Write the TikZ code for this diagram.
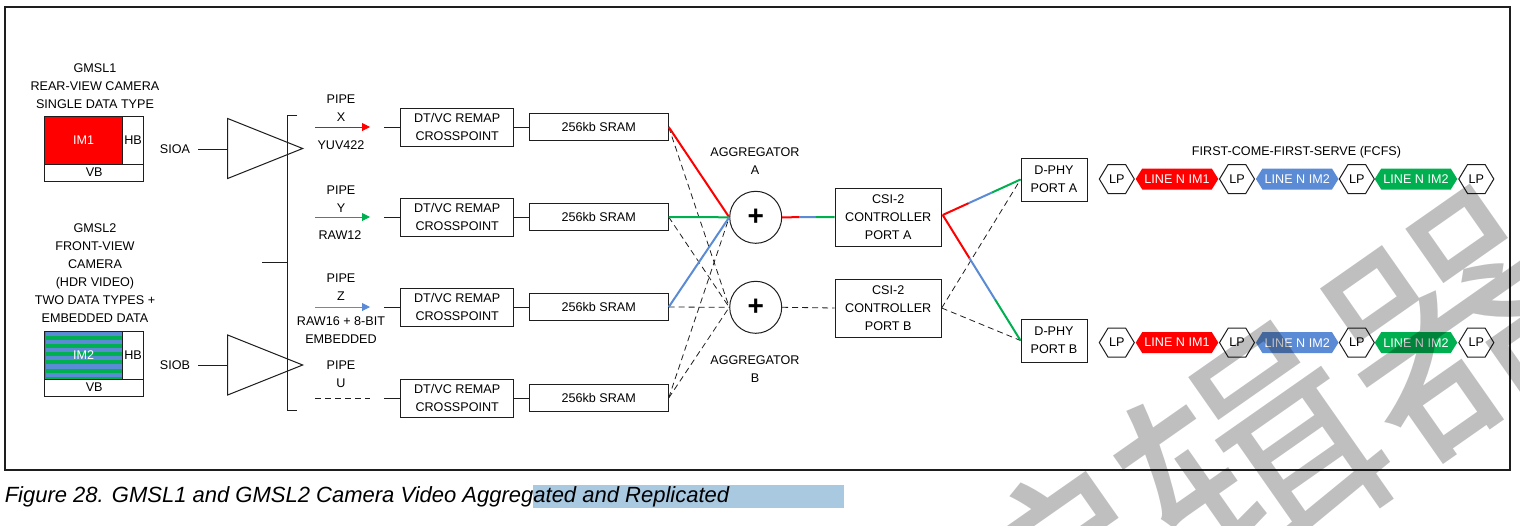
\documentclass[tikz,border=0pt]{standalone}
\usepackage{fontspec}
\setmainfont{Liberation Sans}
\newfontfamily\cjk{Noto Sans CJK SC}
\usepackage{tikz}
\usetikzlibrary{
  shapes.geometric, shapes.symbols, arrows.meta, calc
}
\definecolor{imred}{HTML}{FF0000}
\definecolor{imgreen}{HTML}{00B050}
\definecolor{imblue}{HTML}{5B8BD4}
\definecolor{inkgrey}{HTML}{1E1E1E}
\definecolor{hilite}{HTML}{A9C9E1}

\begin{document}
\begin{tikzpicture}[x=1pt,y=-1pt,
    every node/.style={font=\fontsize{12.6}{18}\selectfont, align=center, inner sep=0pt, text=black},
    label/.style={},
    block/.style={draw=inkgrey, line width=1pt, fill=white, minimum width=#1},
    remapbox/.style={block=113pt, minimum height=38pt},
    srambox/.style={block=139pt, minimum height=27pt},
    csibox/.style={block=106pt, minimum height=58pt},
    phybox/.style={block=66pt, minimum height=43pt},
    sumnode/.style={circle, draw=inkgrey, line width=1pt, minimum size=52pt, fill=white, font=\bfseries\fontsize{28}{28}\selectfont},
    amp/.style={isosceles triangle, isosceles triangle stretches, draw=inkgrey, line width=1pt, minimum width=60pt, minimum height=75pt},
    wire/.style={draw=inkgrey, line width=1pt},
    dashwire/.style={draw=inkgrey, line width=0.8pt, dash pattern=on 6pt off 4pt},
    colwire/.style={draw=#1, line width=2pt},
    pipearrow/.style={draw=#1, line width=1pt, -{Triangle[length=8pt,width=8pt,fill=#1]}},
    lpnode/.style={signal, signal to=west and east, signal pointer angle=118, draw=inkgrey, line width=1pt, fill=white, minimum width=35pt, minimum height=29pt},
    linenode/.style={signal, signal to=west and east, signal pointer angle=116, fill=#1, text=white, minimum width=82.6pt, minimum height=21pt},
    stamp/.style={text=black, text opacity=0.25, rotate=35, font=\cjk\fontsize{245}{245}\selectfont}
  ]
    \useasboundingbox (0,0) rectangle (1520,525);
    \node[draw=inkgrey, line width=2pt, minimum width=1505pt, minimum height=463pt] (frame) at (757,238.5) {};

    \node (camAtext) at (95,86) {GMSL1\\REAR-VIEW CAMERA\\SINGLE DATA TYPE};
    \node[block=77.5pt, minimum height=48pt, fill=imred, text=white] (imA) at (83.7,140) {IM1};
    \node[block=21pt, minimum height=48pt] (hbA) at (133,140) {HB};
    \node[block=98.5pt, minimum height=17pt] (vbA) at (94.2,172.5) {VB};

    \node (camBtext) at (95,273.5) {GMSL2\\FRONT-VIEW\\CAMERA\\(HDR VIDEO)\\TWO DATA TYPES +\\EMBEDDED DATA};
    \node[block=77.5pt, minimum height=48pt, fill=imgreen] (imB) at (83.7,355) {};
    \foreach \k in {0,...,5}{
      \fill[imblue] (45.5,331.5+8.2*\k) rectangle (122,335.7+8.2*\k);
    }
    \node[text=white] (imBtext) at (83.7,355) {IM2};
    \node[block=21pt, minimum height=48pt] (hbB) at (133,355) {HB};
    \node[block=98.5pt, minimum height=17pt] (vbB) at (94.2,387.5) {VB};

    \node[minimum width=46pt] (sioA) at (175,149) {SIOA};
    \node[minimum width=46pt] (sioB) at (175,365) {SIOB};
    \node[amp] (ampA) at (248,148.5) {};
    \node[amp] (ampB) at (248,365) {};
    \draw[wire] (sioA.east) -- (ampA.west |- sioA.east);
    \draw[wire] (sioB.east) -- (ampB.west |- sioB.east);

    \coordinate (brktop) at (297,115.5);
    \coordinate (brkbot) at (297,410);
    \coordinate (brkmid) at (262,262);
    \draw[wire] (brktop) -- (287.5,115.5) -- (287.5,410) -- (brkbot);
    \draw[wire] (brkmid) -- (287.5,262);

    \node (pipeXtext) at (341,108) {PIPE\\X};
    \node (pipeYtext) at (341,199) {PIPE\\Y};
    \node (pipeZtext) at (341,287) {PIPE\\Z};
    \node (pipeUtext) at (341,374) {PIPE\\U};
    \node (fmtX) at (341,145) {YUV422};
    \node (fmtY) at (340,235) {RAW12};
    \node (fmtZ) at (341,330) {RAW16 + 8-BIT\\EMBEDDED};

    \foreach \p/\y in {X/127,Y/217,Z/307,U/398}{
      \coordinate (in\p) at (315,\y);
      \coordinate (out\p) at (370,\y);
      \coordinate (feed\p) at (384,\y);
      \node[remapbox] (remap\p) at (457.2,\y) {DT/VC REMAP\\CROSSPOINT};
      \node[srambox] (sram\p) at (598.7,\y) {256kb SRAM};
      \draw[wire] (feed\p) -- (remap\p.west);
      \draw[wire] (remap\p.east) -- (sram\p.west);
    }
    \draw[pipearrow=imred] (inX) -- (outX);
    \draw[pipearrow=imgreen] (inY) -- (outY);
    \draw[pipearrow=imblue] (inZ) -- (outZ);
    \draw[dashwire] (inU) -- (outU);

    \node (aggAtext) at (755,161) {AGGREGATOR\\A};
    \node (aggBtext) at (755,369) {AGGREGATOR\\B};
    \node[sumnode] (sumA) at (755.7,217.3) {+};
    \node[sumnode] (sumB) at (755.7,307.3) {+};

    \foreach \p in {X,Y,Z,U}{
      \draw[dashwire] (sram\p.east) -- (sumB.west);
    }
    \draw[dashwire] (sramU.east) -- (sumA.west);
    \draw[colwire=imred] (sramX.east) -- (sumA.west);
    \draw[colwire=imgreen] (sramY.east) -- (sumA.west);
    \draw[colwire=imblue] (sramZ.east) -- (sumA.west);

    \node[csibox] (csiA) at (888.2,217) {CSI-2\\CONTROLLER\\PORT A};
    \node[csibox] (csiB) at (888.2,308) {CSI-2\\CONTROLLER\\PORT B};
    \node[phybox] (phyA) at (1054,179.5) {D-PHY\\PORT A};
    \node[phybox] (phyB) at (1054,340.5) {D-PHY\\PORT B};

    \draw[colwire=imred] (sumA.east) -- ($(sumA.east)!0.32!(csiA.west)$);
    \draw[colwire=imblue] ($(sumA.east)!0.32!(csiA.west)$) -- ($(sumA.east)!0.64!(csiA.west)$);
    \draw[colwire=imgreen] ($(sumA.east)!0.64!(csiA.west)$) -- (csiA.west);
    \draw[dashwire] (sumB.east) -- (csiB.west);

    \coordinate (csiAout) at (942.7,215);
    \draw[dashwire] (csiB.east) -- (phyA.west);
    \draw[dashwire] (csiB.east) -- (phyB.west);
    \draw[colwire=imred] (csiAout) -- ($(csiAout)!0.335!(phyA.west)$);
    \draw[colwire=imblue] ($(csiAout)!0.335!(phyA.west)$) -- ($(csiAout)!0.63!(phyA.west)$);
    \draw[colwire=imgreen] ($(csiAout)!0.63!(phyA.west)$) -- (phyA.west);
    \draw[colwire=imred] (csiAout) -- ($(csiAout)!0.345!(phyB.west)$);
    \draw[colwire=imblue] ($(csiAout)!0.345!(phyB.west)$) -- ($(csiAout)!0.67!(phyB.west)$);
    \draw[colwire=imgreen] ($(csiAout)!0.67!(phyB.west)$) -- (phyB.west);

    \node (fcfs) at (1296.5,152) {FIRST-COME-FIRST-SERVE (FCFS)};
    \foreach \r/\y in {A/179,B/342.6}{
      \node[lpnode] (lp\r a) at (1116.8,\y) {LP};
      \node[linenode=imred] (line\r a) at (1177,\y) {LINE N IM1};
      \node[lpnode] (lp\r b) at (1237,\y) {LP};
      \node[linenode=imblue] (line\r b) at (1297.2,\y) {LINE N IM2};
      \node[lpnode] (lp\r c) at (1356.8,\y) {LP};
      \node[linenode=imgreen] (line\r c) at (1416,\y) {LINE N IM2};
      \node[lpnode] (lp\r d) at (1476.3,\y) {LP};
    }

    \fill[hilite] (533,485) rectangle (844,507.7);
    \node[anchor=base west, font=\itshape\fontsize{22}{22}\selectfont] (caption) at (4.6,502.5) {Figure 28. GMSL1 and GMSL2 Camera Video Aggregated and Replicated};

    \node[stamp] (stampmark) at (1252,460) {编辑器};
  \end{tikzpicture}
\end{document}
